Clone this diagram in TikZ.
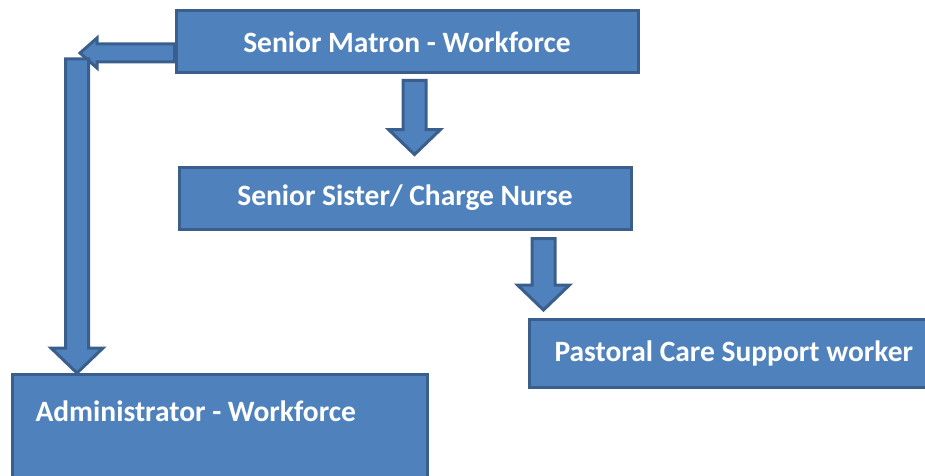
\documentclass[tikz,border=0pt]{standalone}
\usepackage{fontspec}
\setmainfont{Carlito}
\usetikzlibrary{positioning,calc}

\definecolor{boxfill}{HTML}{4F81BD}
\definecolor{boxline}{HTML}{3A5F8D}

\tikzset{
  box/.style={draw=boxline, fill=boxfill, line width=3pt, text=white,
    font=\fontsize{29.5}{34}\selectfont\bfseries, inner sep=0pt},
  blockarrow/.style={draw=boxline, fill=boxfill, line width=3pt, line join=miter},
}

% fat arrow pointing down, #1 top of the shaft, #2 the tip
\newcommand{\blockdown}[2]{%
  \filldraw[blockarrow] let \p1=(#1), \p2=(#2) in
    (\x1-11.5pt,\y1) -- (\x1+11.5pt,\y1) -- (\x1+11.5pt,\y2+25pt) -- (\x1+26pt,\y2+25pt)
    -- (\x1,\y2) -- (\x1-26pt,\y2+25pt) -- (\x1-11.5pt,\y2+25pt) -- cycle;}
% fat arrow pointing left
\newcommand{\blockleft}[2]{%
  \filldraw[blockarrow] let \p1=(#1), \p2=(#2) in
    (\x1,\y1+9pt) -- (\x2+17pt,\y1+9pt) -- (\x2+17pt,\y1+15pt) -- (\x2,\y1)
    -- (\x2+17pt,\y1-15pt) -- (\x2+17pt,\y1-9pt) -- (\x1,\y1-9pt) -- cycle;}

\begin{document}
\begin{tikzpicture}[x=1pt, y=1pt]
 \useasboundingbox (0,0) rectangle (925,475);
 \clip (0,0) rectangle (925,475);

 \node [box, minimum width=462pt, minimum height=62pt] (matron) at (407,433)
   {Senior Matron - Workforce};
 \node [box, minimum width=452pt, minimum height=62pt, below=91pt of matron, xshift=-2pt] (sister)
   {Senior Sister/ Charge Nurse};
 \node [box, anchor=north west, minimum width=420pt, minimum height=68pt,
   text width=420pt, align=flush left, inner xsep=25pt] (pastoral) at (528,157)
   {Pastoral Care Support worker};
 \node [box, anchor=north west, text width=369pt, align=flush left,
   inner xsep=23pt, inner ysep=26pt, text depth=110pt] (admin) at (11,102)
   {Administrator - Workforce};

 % connectors
 \coordinate (lstart) at ([yshift=-11pt]matron.west);
 \coordinate (ltip) at (80,422);
 \coordinate (vtop) at (77,416);
 \coordinate (vtip) at ([xshift=66pt]admin.north west);
 \blockleft{lstart}{ltip}
 \blockdown{vtop}{vtip}
 \blockdown{$(matron.south)+(7.5,-6)$}{$(sister.north)+(9.5,11)$}
 \blockdown{$(sister.south)+(138.5,-8)$}{$(pastoral.north west)+(15.5,8)$}
\end{tikzpicture}
\end{document}
